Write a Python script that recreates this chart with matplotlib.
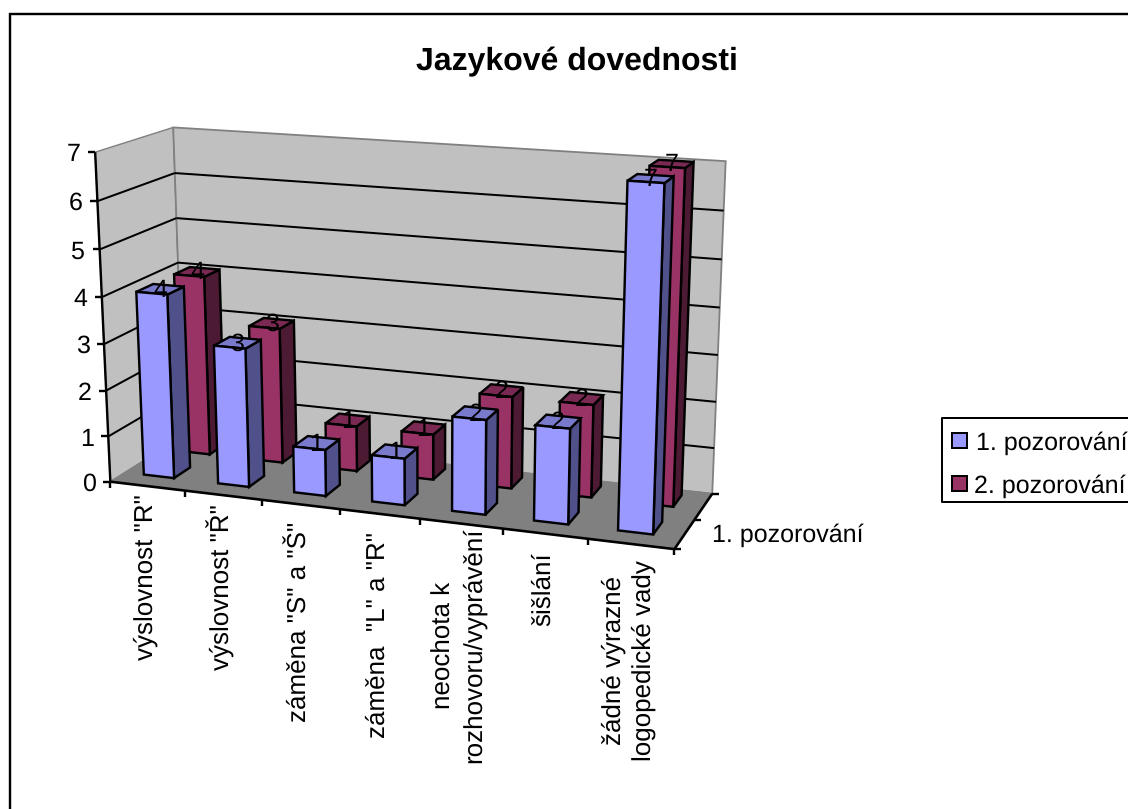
import numpy as np
import matplotlib
matplotlib.use("Agg")
import matplotlib.pyplot as plt
from matplotlib.patches import Polygon, Rectangle

plt.rcParams['font.family'] = ['Liberation Sans', 'DejaVu Sans']
plt.rcParams['text.hinting'] = 'none'
plt.rcParams['text.hinting_factor'] = 1

# Chart data
title = "Jazykové dovednosti"
categories = ['výslovnost "R"', 'výslovnost "Ř"', 'záměna "S" a "Š"', 'záměna  "L" a "R"',
              'neochota k\nrozhovoru/vyprávění', 'šišlání', 'žádné výrazné\nlogopedické vady']
series_names = ["1. pozorování", "2. pozorování"]
first_obs = [4, 3, 1, 1, 2, 2, 7]
second_obs = [4, 3, 1, 1, 2, 2, 7]
value_ticks = list(range(0, 8))

# Colours
WALL, FLOOR, EDGE = "#C0C0C0", "#808080", "#808080"
S1 = dict(front="#9999FF", top="#7A7ACC", side="#50508A")
S2 = dict(front="#993366", top="#7A2952", side="#4D1A33")

# Perspective box: world (category, depth, value) to canvas pixels, solved from the box corners
Z_MAX = 7.0
N = len(categories)
world = np.array([[0, 0, 0], [N, 0, 0], [0, 1, 0], [N, 1, 0],
                  [0, 0, Z_MAX], [N, 0, Z_MAX], [0, 1, Z_MAX], [N, 1, Z_MAX]], float)
canvas = np.array([[109.3, 479.0], [675.0, 550.7], [185.0, 438.0], [711.7, 492.0],
                   [95.7, 152.7], [687.0, 192.0], [172.7, 126.7], [725.7, 160.7]])
rows = []
for (X, Y, Z), (u, v) in zip(world, canvas):
    rows.append([X, Y, Z, 1, 0, 0, 0, 0, -u * X, -u * Y, -u * Z, -u])
    rows.append([0, 0, 0, 0, X, Y, Z, 1, -v * X, -v * Y, -v * Z, -v])
P = np.linalg.svd(np.array(rows))[2][-1].reshape(3, 4)


def proj(x, d, z):
    h = P @ np.array([x, d, z, 1.0])
    return h[0] / h[2], h[1] / h[2]


fig = plt.figure(figsize=(11.28, 8.09), dpi=100, facecolor="white")
ax = fig.add_axes([0, 0, 1, 1])
ax.set_xlim(0, 1128)
ax.set_ylim(809, 0)
ax.axis("off")

PX = 0.72  # points per pixel at this resolution
LW = 2.4 * PX
FS = 18.2


def line(a, b, color="black", lw=LW, z=3):
    ax.plot([a[0], b[0]], [a[1], b[1]], color=color, lw=lw, zorder=z, solid_capstyle="butt")


def face(pts, color, z=5, edge="black", lw=LW):
    ax.add_patch(Polygon(pts, closed=True, facecolor=color, edgecolor=edge, lw=lw,
                         joinstyle="miter", zorder=z))


# Chart area frame: only the left and top sides fall on the canvas
line((13, 12.5), (1128, 12.5), color="#A0A0A0", lw=1.0 * PX)
line((10, 13), (10, 809), lw=2.4 * PX)
line((9, 14), (1128, 14), lw=2.4 * PX)

# Walls and floor
face([proj(0, 0, 0), proj(0, 1, 0), proj(0, 1, Z_MAX), proj(0, 0, Z_MAX)], WALL, z=1, edge=EDGE, lw=1.4 * PX)
face([proj(0, 1, 0), proj(N, 1, 0), proj(N, 1, Z_MAX), proj(0, 1, Z_MAX)], WALL, z=1, edge=EDGE, lw=1.8 * PX)
face([proj(0, 0, 0), proj(N, 0, 0), proj(N, 1, 0), proj(0, 1, 0)], FLOOR, z=1, edge=EDGE, lw=1.4 * PX)

# Gridlines across both walls
for v in value_ticks[1:-1]:
    line(proj(0, 0, v), proj(0, 1, v), lw=2.0 * PX)
    line(proj(0, 1, v), proj(N, 1, v), lw=2.0 * PX)

# Value axis with ticks and labels
line(proj(0, 0, 0), proj(0, 0, Z_MAX))
for v in value_ticks:
    x, y = proj(0, 0, v)
    line((x - 7, y), (x, y))
    ax.text(x - 14.5, y, str(v), ha="right", va="center_baseline", fontsize=FS, color="black")

# Category axis with ticks and rotated labels
line(proj(0, 0, 0), proj(N, 0, 0), lw=2.6 * PX)
for i in range(N + 1):
    x, y = proj(i, 0, 0)
    line((x, y), (x, y + 6))
label_tops = [494, 504, 522, 532, 528, 552, 560]
for i, (name, top) in enumerate(zip(categories, label_tops)):
    x, _ = proj(i + 0.5, 0, 0)
    ax.text(x - 2, top, name, rotation=90, ha="center", va="top", multialignment="center",
            fontsize=18.4, color="black", linespacing=1.28)

# Depth axis with one series label
line(proj(N, 0, 0), proj(N, 1, 0), lw=2.6 * PX)
for d in (0, 0.5, 1):
    x, y = proj(N, d, 0)
    line((x, y), (x + 7, y))
ax.text(712, 535, series_names[0], ha="left", va="center", fontsize=FS, color="black")

# Bars: rear series first, each series left to right
BAR_W = 0.41
BAR_D = 0.22
BAR_C = 0.46


def draw_bars(values, d_centre, cols, z):
    for i, v in enumerate(values):
        x0, x1 = i + BAR_C - BAR_W / 2, i + BAR_C + BAR_W / 2
        d0, d1 = d_centre - BAR_D / 2, d_centre + BAR_D / 2
        face([proj(x1, d0, 0), proj(x1, d1, 0), proj(x1, d1, v), proj(x1, d0, v)], cols["side"], z=z)
        face([proj(x0, d0, v), proj(x1, d0, v), proj(x1, d1, v), proj(x0, d1, v)], cols["top"], z=z)
        face([proj(x0, d0, 0), proj(x1, d0, 0), proj(x1, d0, v), proj(x0, d0, v)], cols["front"], z=z)
        lx, ly = proj(i + BAR_C, d_centre, v)
        ax.text(lx, ly - 1.5, str(v), ha="center", va="center_baseline", fontsize=FS, color="black", zorder=20)


draw_bars(second_obs, 0.80, S2, 5)
draw_bars(first_obs, 0.30, S1, 6)

# Legend, running past the right edge of the canvas
ax.plot([1130, 942, 942, 1130], [418, 418, 501.5, 501.5], color="black", lw=2.0 * PX, zorder=8)
for y, col, name, tx in zip((433, 476), (S1["front"], S2["front"]), series_names, (976, 974)):
    ax.add_patch(Rectangle((952, y), 15, 15, facecolor=col, edgecolor="black", lw=2.0 * PX, zorder=8))
    ax.text(tx, y + 16.5, name, ha="left", va="baseline", fontsize=FS, color="black", zorder=8)

# Title
ax.text(576.5, 70, title, ha="center", va="baseline", fontsize=23.4, fontweight="bold", color="black")

fig.savefig("out.png", dpi=100, facecolor="white")
